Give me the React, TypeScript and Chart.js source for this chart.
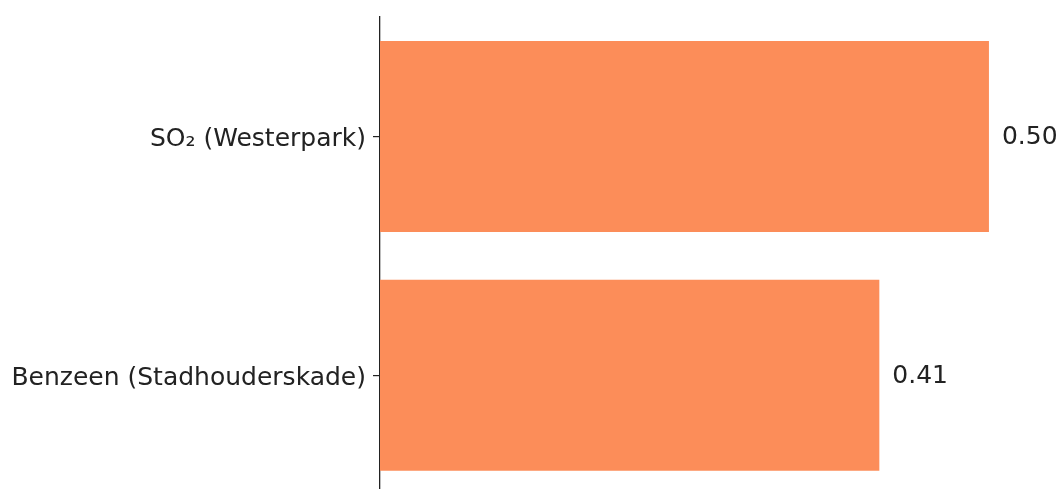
import React, { useEffect, useRef } from "react";
import { Chart, registerables } from "chart.js";

Chart.register(...registerables);

const categories = ["SO₂ (Westerpark)", "Benzeen (Stadhouderskade)"];
const values = [0.5, 0.41];
const valueLabels = ["0.50", "0.41"];
const barColor = "#FC8D59";
const FONT = "DejaVu Sans";
const FONT_SIZE = 25;

const labelPlugin = {
  id: "labels",
  afterDatasetsDraw(chart: any) {
    const ctx = chart.ctx;
    const meta = chart.getDatasetMeta(0);
    const yScale = chart.scales.y;
    ctx.save();
    ctx.font = `${FONT_SIZE}px "${FONT}"`;
    ctx.fillStyle = "#222";
    ctx.textBaseline = "middle";
    meta.data.forEach((bar: any, i: number) => {
      ctx.textAlign = "left";
      ctx.fillText(valueLabels[i], bar.x + 13, bar.y + 1);
      ctx.textAlign = "right";
      ctx.fillText(categories[i], yScale.right - 14, bar.y + 3);
    });
    ctx.restore();
  },
};

export default function App() {
  const ref = useRef<HTMLCanvasElement>(null);
  useEffect(() => {
    const chart = new Chart(ref.current!, {
      type: "bar",
      data: {
        labels: categories,
        datasets: [
          {
            data: values,
            backgroundColor: barColor,
            barPercentage: 0.8,
            categoryPercentage: 1,
          },
        ],
      },
      options: {
        indexAxis: "y",
        animation: false,
        responsive: false,
        maintainAspectRatio: false,
        layout: { padding: { top: 17, bottom: 5.5, left: 0, right: 0 } },
        plugins: { legend: { display: false }, tooltip: { enabled: false } },
        scales: {
          x: { display: false, min: 0, max: 0.5567 },
          y: {
            afterFit(scale: any) {
              scale.width = 380;
              scale.paddingTop = 0;
              scale.paddingBottom = 0;
            },
            grid: {
              offset: false,
              drawOnChartArea: false,
              drawTicks: true,
              tickLength: 7,
              color: "#222",
              lineWidth: 1.2,
            },
            border: { display: true, color: "#222", width: 1.3 },
            ticks: {
              display: false,
            },
          },
        },
      },
      plugins: [labelPlugin],
    });
    return () => chart.destroy();
  }, []);
  return (
    <div
      style={{
        position: "fixed",
        top: 0,
        left: 0,
        width: 1058,
        height: 489,
        overflow: "hidden",
        background: "#fff",
      }}
    >
      <canvas ref={ref} width={1058} height={500} style={{ display: "block" }} />
    </div>
  );
}
